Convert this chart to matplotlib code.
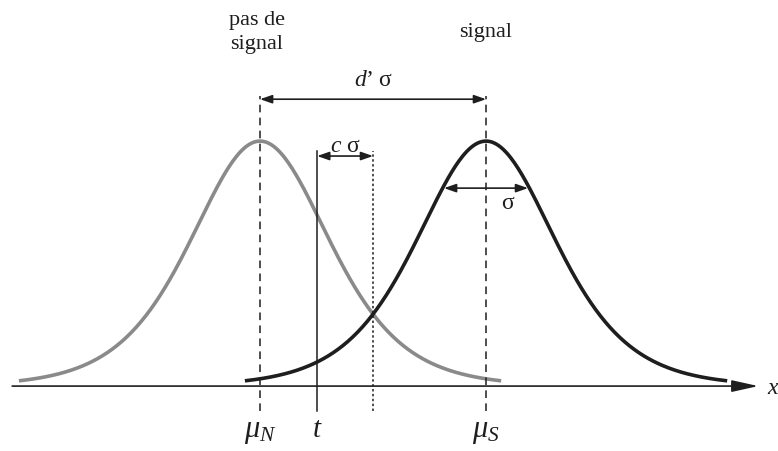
import matplotlib
matplotlib.use('Agg')
import matplotlib.pyplot as plt
import numpy as np

# Model parameters (units of sigma)
mu_noise = 0.0
d_prime = 5.38
c_crit = 1.33
sigma = 1.0
curve_scale = 1.10      # logistic-shaped bell used for the drawing
curve_extent = 5.74     # how far each curve is drawn on each side of its mean

mu_signal = mu_noise + d_prime * sigma
midpoint = (mu_noise + mu_signal) / 2
threshold = midpoint - c_crit * sigma

plt.rcParams['font.family'] = ['Liberation Serif', 'DejaVu Serif']
plt.rcParams['mathtext.fontset'] = 'custom'
plt.rcParams['mathtext.rm'] = 'Liberation Serif'
plt.rcParams['mathtext.it'] = 'Liberation Serif:italic'


def bell(x, mu):
    return 1.0 / np.cosh((x - mu) / (2 * curve_scale)) ** 2


fig = plt.figure(figsize=(7.78, 4.52), dpi=100)
ax = fig.add_axes([0, 0, 1, 1])
ax.set_xlim(-6.19, 12.33)
ax.set_ylim(-0.265, 1.58)
ax.axis('off')

ink = '#1e1e1e'

# x axis with arrow
ax.annotate('', xy=(11.86, 0), xytext=(-5.90, 0),
            arrowprops=dict(arrowstyle='-|>,head_length=0.9,head_width=0.2',
                            mutation_scale=18, color=ink, lw=1.2,
                            shrinkA=0, shrinkB=0))
ax.text(12.07, -0.03, 'x', fontsize=17, style='italic', ha='left',
        va='baseline', color=ink)

# the two distributions
xn = np.linspace(mu_noise - curve_extent, mu_noise + curve_extent, 400)
xs = np.linspace(mu_signal - curve_extent, mu_signal + curve_extent, 400)
ax.plot(xn, bell(xn, mu_noise), color='#8a8a8a', lw=2.6, solid_capstyle='butt')
ax.plot(xs, bell(xs, mu_signal), color='#1e1e1e', lw=2.6, solid_capstyle='butt')

# reference lines
for m in (mu_noise, mu_signal):
    ax.plot([m, m], [-0.102, 1.184], color=ink, lw=1.1, ls=(0, (5, 3.5)))
ax.plot([threshold, threshold], [-0.102, 0.959], color=ink, lw=1.1)
ax.plot([midpoint, midpoint], [-0.102, 0.959], color=ink, lw=1.1,
        ls=(0, (1.6, 1.6)))

arrow = dict(arrowstyle='<|-|>,head_length=0.8,head_width=0.28',
             mutation_scale=9, color=ink, lw=1.2, shrinkA=0, shrinkB=0)

# d' sigma
ax.annotate('', xy=(mu_signal, 1.171), xytext=(mu_noise, 1.171), arrowprops=arrow)
ax.text(midpoint, 1.25, "$d$\u2019\u2009\u03c3", fontsize=17, ha='center',
        va='center', color=ink)

# c sigma
ax.annotate('', xy=(midpoint, 0.939), xytext=(threshold, 0.939), arrowprops=arrow)
ax.text((threshold + midpoint) / 2, 0.984, "$c$ \u03c3", fontsize=17,
        ha='center', va='center', color=ink)

# sigma
ax.annotate('', xy=(mu_signal + sigma, 0.808), xytext=(mu_signal - sigma, 0.808),
            arrowprops=arrow)
ax.text(mu_signal + 0.5 * sigma, 0.75, "\u03c3", fontsize=17, ha='center',
        va='center', color=ink)

# labels on top
ax.text(mu_noise - 0.07, 1.449, 'pas de\nsignal', fontsize=16, ha='center',
        va='center', linespacing=1.35, color=ink)
ax.text(mu_signal, 1.449, 'signal', fontsize=16, ha='center', va='center',
        color=ink)

# labels under the axis
ax.text(mu_noise, -0.204, r'$\mu_N$', fontsize=22, ha='center', va='baseline',
        color=ink)
ax.text(threshold, -0.204, r'$t$', fontsize=21, ha='center', va='baseline',
        color=ink)
ax.text(mu_signal, -0.204, r'$\mu_S$', fontsize=22, ha='center', va='baseline',
        color=ink)

fig.savefig('out.png', dpi=100)
